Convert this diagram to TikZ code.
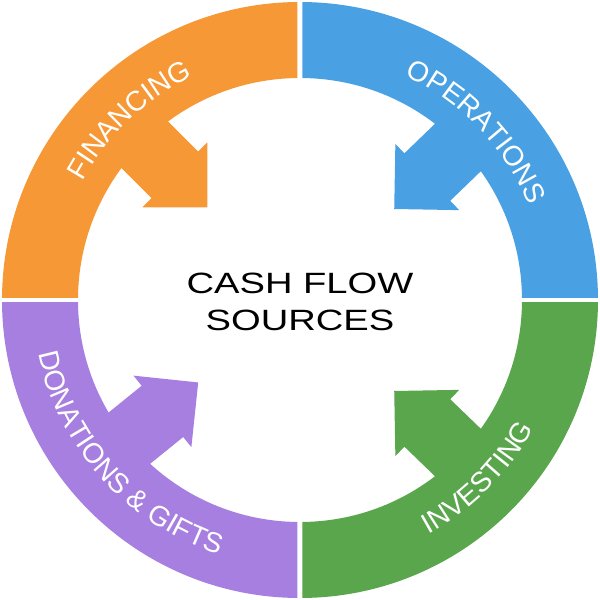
\documentclass[tikz,border=0pt]{standalone}
\usepackage{fontspec}
\setmainfont{Liberation Sans}
\newfontfamily\widefont[FakeStretch=1.3]{Liberation Sans}
\usetikzlibrary{decorations.text}
\definecolor{cforange}{RGB}{246,152,54}
\definecolor{cfblue}{RGB}{73,161,227}
\definecolor{cfgreen}{RGB}{89,166,77}
\definecolor{cfpurple}{RGB}{167,127,224}
\newcommand\ringsize{\fontsize{8}{10}\selectfont}
\tikzset{
  ringlabel/.style={decorate, decoration={text along path, text align=center,
      text color=white, text={|\ringsize|#1}}},
  ringpart/.style={fill=#1, even odd rule},
  pics/inarrow/.style={code={
      \fill[#1] (2.5,0.33) -- (1.77,0.33) -- (1.77,0.46) -- (1.31,0)
        -- (1.77,-0.46) -- (1.77,-0.33) -- (2.5,-0.33) -- cycle;}}
}
\begin{document}
\begin{tikzpicture}
\useasboundingbox (-3,-3) rectangle (3,3);
\def\Ro{2.98}
\def\Ri{2.22}
% ring quadrants
\begin{scope}
  \clip (-0.025,0.025) rectangle (-3.2,3.2);
  \path[ringpart=cforange] (0,0) circle (\Ro) (0,0) circle (\Ri);
\end{scope}
\begin{scope}
  \clip (0.025,0.025) rectangle (3.2,3.2);
  \path[ringpart=cfblue] (0,0) circle (\Ro) (0,0) circle (\Ri);
\end{scope}
\begin{scope}
  \clip (0.025,-0.025) rectangle (3.2,-3.2);
  \path[ringpart=cfgreen] (0,0) circle (\Ro) (0,0) circle (\Ri);
\end{scope}
\begin{scope}
  \clip (-0.025,-0.025) rectangle (-3.2,-3.2);
  \path[ringpart=cfpurple] (0,0) circle (\Ro) (0,0) circle (\Ri);
\end{scope}
% arrows into the centre
\pic[rotate=135] at (0,0) {inarrow=cforange};
\pic[rotate=44] at (0,0) {inarrow=cfblue};
\pic[rotate=-44] at (0,0) {inarrow=cfgreen};
\pic[rotate=219] at (0,0) {inarrow=cfpurple};
% ring labels
\path[ringlabel={FINANCING}] (163.5:2.48) arc (163.5:103.5:2.48);
\path[ringlabel={OPERATIONS}] (78.7:2.48) arc (78.7:8.7:2.48);
\path[ringlabel={DONATIONS {\&} GIFTS}] (177:2.67) arc (177:267:2.67);
\path[ringlabel={INVESTING}] (-80:2.67) arc (-80:-10:2.67);
% centre title
\node[font=\widefont\fontsize{8.35}{10.5}\selectfont, align=center, inner sep=0pt]
  (title) at (0,-0.02) {CASH FLOW\\SOURCES};
\end{tikzpicture}
\end{document}
